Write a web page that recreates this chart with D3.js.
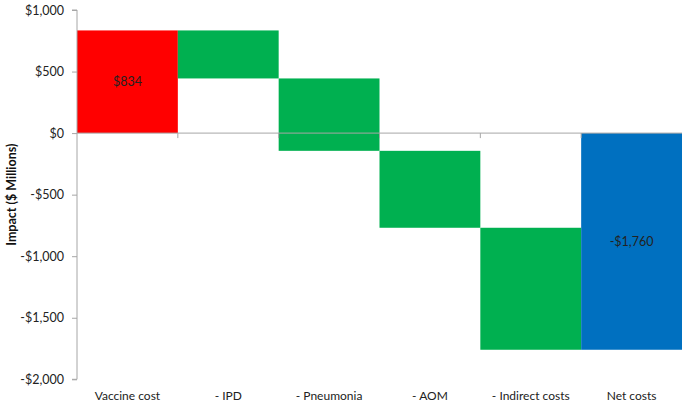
<!DOCTYPE html>
<html><head><meta charset="utf-8">
<script src="https://cdn.jsdelivr.net/npm/d3@7"></script>
<style>body{margin:0;background:#fff}svg{display:block}</style>
</head><body><svg id="c" width="685" height="409"></svg>
<script>
const categories = ["Vaccine cost", "- IPD", "- Pneumonia", "- AOM", "- Indirect costs", "Net costs"];
const deltas = [834, -390, -588, -625, -991, null]; // null = total
const kinds = ["increase", "decrease", "decrease", "decrease", "decrease", "total"];
const colors = {increase: "#FF0000", decrease: "#00B050", total: "#0070C0"};
const yTicks = [1000, 500, 0, -500, -1000, -1500, -2000];
const labelIdx = [0, 5];

let run = 0;
const bars = categories.map((c, i) => {
  if (kinds[i] === "total") return {c, y0: 0, y1: run, v: run, k: kinds[i]};
  const b = {c, y0: run, y1: run + deltas[i], v: deltas[i], k: kinds[i]};
  run += deltas[i];
  return b;
});

const svg = d3.select("#c");
const m = {l: 77, r: 682, t: 10, b: 379.3};
const x = d3.scaleBand().domain(categories).range([m.l, m.r]).padding(0);
const y = d3.scaleLinear().domain([-2000, 1000]).range([m.b, m.t]);
const font = "Lato, 'Liberation Sans', sans-serif";
const fmt = v => (v < 0 ? "-" : "") + "$" + d3.format(",")(Math.abs(v));

svg.selectAll("rect.bar").data(bars).enter().append("rect")
  .attr("x", d => x(d.c)).attr("width", x.bandwidth())
  .attr("y", d => y(Math.max(d.y0, d.y1)))
  .attr("height", d => Math.abs(y(d.y0) - y(d.y1)))
  .attr("fill", d => colors[d.k]);

// y axis
const ya = d3.axisLeft(y).tickValues(yTicks).tickSize(5).tickPadding(8).tickFormat(fmt);
const yg = svg.append("g").attr("transform", `translate(${m.l},0)`).call(ya);
yg.select(".domain").attr("stroke", "#a6a6a6").attr("d", `M-5,${m.t}H0V${m.b}H-5`);
yg.selectAll(".tick line").attr("stroke", "#a6a6a6");
yg.selectAll("text").attr("font-family", font).attr("font-size", 12.5).attr("fill", "#222");

// x axis at zero
const xa = d3.axisBottom(x).tickSize(0).tickFormat("");
const xg = svg.append("g").attr("transform", `translate(0,${y(0)})`).call(xa);
xg.select(".domain").attr("stroke", "#a6a6a6").attr("d", `M${m.l},0H${m.r}`);
xg.selectAll(".tick").remove();
const bounds = categories.slice(1).map(c => x(c));
svg.selectAll("line.sep").data(bounds).enter().append("line")
  .attr("x1", d => d).attr("x2", d => d).attr("y1", y(0)).attr("y2", y(0) + 5)
  .attr("stroke", "#a6a6a6");

svg.selectAll("text.cat").data(categories).enter().append("text")
  .attr("x", d => x(d) + x.bandwidth() / 2).attr("y", 400)
  .attr("text-anchor", "middle").attr("font-family", font).attr("font-size", 12)
  .attr("fill", "#222").text(d => d);

svg.selectAll("text.lbl").data(labelIdx.map(i => bars[i])).enter().append("text")
  .attr("x", d => x(d.c) + x.bandwidth() / 2)
  .attr("y", d => (y(d.y0) + y(d.y1)) / 2 + 4.5)
  .attr("text-anchor", "middle").attr("font-family", font).attr("font-size", 12.5)
  .attr("fill", "#222").text(d => fmt(d.v));

svg.append("text").attr("transform", `translate(16,${(m.t + m.b) / 2}) rotate(-90)`)
  .attr("text-anchor", "middle").attr("font-family", font).attr("font-size", 12.5)
  .attr("font-weight", "bold").attr("fill", "#111").text("Impact ($ Millions)");
</script></body></html>
